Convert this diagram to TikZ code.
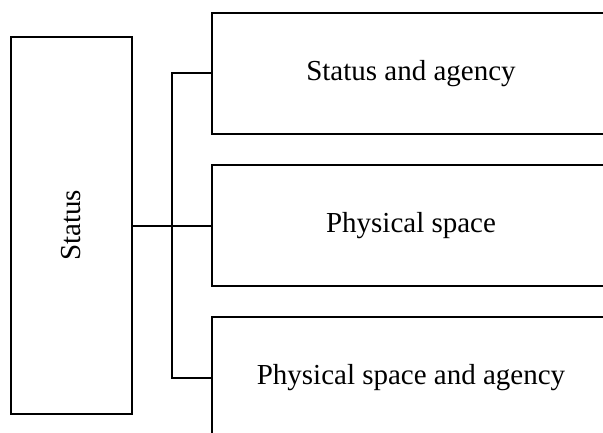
\documentclass[tikz,border=0pt]{standalone}
\usepackage{fontspec}
\setmainfont{Liberation Serif}
\begin{document}
\begin{tikzpicture}[x=1pt,y=1pt,
  box/.style={draw=black, line width=2pt, rectangle, inner sep=0pt, align=center,
    font=\fontsize{29}{34}\selectfont},
  wire/.style={draw=black, line width=2pt}]
\useasboundingbox (0,0) rectangle (603,432);
\clip (0,0) rectangle (603,432);
\node[box, minimum width=121pt, minimum height=377pt] (status) at (71.5,206.5) {\rotatebox{90}{Status}};
\node[box, minimum width=398pt, minimum height=121pt] (b1) at (411,358.5) {Status and agency};
\node[box, minimum width=398pt, minimum height=121pt] (b2) at (411,206.5) {Physical space};
\node[box, minimum width=398pt, minimum height=121pt] (b3) at (411,54.5) {Physical space and agency};
\coordinate (j) at (172,206.5);
\draw[wire] (status.east) -- (b2.west);
\draw[wire] (b1.west) -| (j) |- (b3.west);
\end{tikzpicture}
\end{document}
